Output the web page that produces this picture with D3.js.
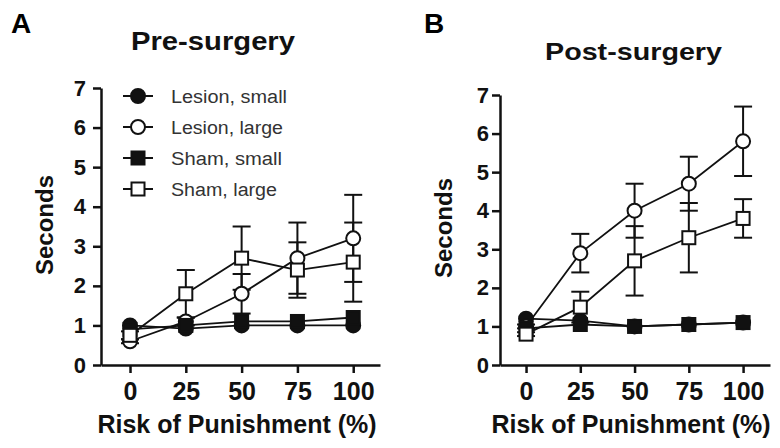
<!DOCTYPE html>
<html><head><meta charset="utf-8">
<script src="https://cdn.jsdelivr.net/npm/d3@7"></script>
<style>body{margin:0;background:#fff}</style>
</head><body><svg id="c" width="780" height="448"></svg>
<script>
// ---- data ----
const risk = [0, 25, 50, 75, 100];
const xTicks = [0, 25, 50, 75, 100];
const yTicks = [0, 1, 2, 3, 4, 5, 6, 7];
const seriesNames = ["Lesion, small", "Lesion, large", "Sham, small", "Sham, large"];

const preLesionSmall = [1.0, 0.92, 1.0, 1.0, 1.0];
const preLesionLarge = [0.6, 1.1, 1.8, 2.7, 3.2];
const preLesionLargeErr = [0.05, 0.1, 0.5, 0.9, 1.1];
const preShamSmall = [0.9, 1.0, 1.1, 1.1, 1.2];
const preShamLarge = [0.75, 1.8, 2.7, 2.4, 2.6];
const preShamLargeErr = [0.1, 0.6, 0.8, 0.7, 1.0];

const postLesionSmall = [1.2, 1.15, 1.0, 1.05, 1.1];
const postLesionLarge = [1.0, 2.9, 4.0, 4.7, 5.8];
const postLesionLargeErr = [0.05, 0.5, 0.7, 0.7, 0.9];
const postShamSmall = [0.95, 1.05, 1.0, 1.05, 1.1];
const postShamLarge = [0.8, 1.5, 2.7, 3.3, 3.8];
const postShamLargeErr = [0.05, 0.4, 0.9, 0.9, 0.5];

// ---- drawing ----
const svg = d3.select("#c");
const FONT = "'Liberation Sans', Arial, Helvetica, sans-serif";
const INK = "#111";

const styles = [
  {shape: "circle", fill: INK},   // Lesion, small
  {shape: "circle", fill: "#fff"},// Lesion, large
  {shape: "square", fill: INK},   // Sham, small
  {shape: "square", fill: "#fff"} // Sham, large
];

function marker(g, shape, fill, x, y) {
  if (shape === "circle") {
    g.append("circle").attr("cx", x).attr("cy", y).attr("r", 7)
      .attr("fill", fill).attr("stroke", INK).attr("stroke-width", 2);
  } else {
    g.append("rect").attr("x", x - 6.5).attr("y", y - 6.5).attr("width", 13).attr("height", 13)
      .attr("fill", fill).attr("stroke", INK).attr("stroke-width", 2);
  }
}

function panel(cfg) {
  const g = svg.append("g");
  const x = d3.scaleLinear().domain(cfg.xDomain).range(cfg.xRange);
  const y = d3.scaleLinear().domain([0, 7]).range(cfg.yRange);

  // axes
  const ya = g.append("g").attr("transform", `translate(${cfg.xRange[0]},0)`)
    .call(d3.axisLeft(y).tickValues(yTicks).tickFormat(d3.format("d"))
      .tickSize(8).tickSizeOuter(0).tickPadding(cfg.yPad));
  const xa = g.append("g").attr("transform", `translate(0,${cfg.yRange[0]})`)
    .call(d3.axisBottom(x).tickValues(xTicks).tickFormat(d3.format("d"))
      .tickSize(8).tickSizeOuter(0).tickPadding(9));
  [ya, xa].forEach(a => {
    a.selectAll("path,line").attr("stroke", INK).attr("stroke-width", 2.5);
    a.selectAll("text").attr("fill", INK).style("font-family", FONT).style("font-weight", "bold");
  });
  ya.selectAll("text").style("font-size", "22px");
  xa.selectAll("text").style("font-size", "25px");

  // series lines and error bars
  cfg.series.forEach((s, i) => {
    const sg = g.append("g");
    sg.append("path")
      .attr("d", d3.line().x((d, j) => x(risk[j])).y(d => y(d))(s.v))
      .attr("fill", "none").attr("stroke", INK).attr("stroke-width", 1.8);
    if (s.e) {
      s.v.forEach((v, j) => {
        const xx = x(risk[j]);
        sg.append("line").attr("x1", xx).attr("x2", xx).attr("y1", y(v - s.e[j])).attr("y2", y(v + s.e[j]))
          .attr("stroke", INK).attr("stroke-width", 2);
        [v - s.e[j], v + s.e[j]].forEach(c => {
          sg.append("line").attr("x1", xx - 9).attr("x2", xx + 9).attr("y1", y(c)).attr("y2", y(c))
            .attr("stroke", INK).attr("stroke-width", 2);
        });
      });
    }
  });
  // markers
  cfg.series.forEach((s, i) => {
    const st = styles[i];
    const mg = g.append("g");
    s.v.forEach((v, j) => marker(mg, st.shape, st.fill, x(risk[j]), y(v)));
  });

  // texts
  g.append("text").attr("x", cfg.letterX).attr("y", 33).text(cfg.letter)
    .attr("fill", "#000").style("font-family", FONT).style("font-weight", "bold").style("font-size", "28px");
  g.append("text").attr("x", cfg.titleX).attr("y", cfg.titleY).text(cfg.title)
    .attr("textLength", cfg.titleLen).attr("lengthAdjust", "spacingAndGlyphs")
    .attr("fill", INK).style("font-family", FONT).style("font-weight", "bold").style("font-size", cfg.titleSize + "px");
  g.append("text").attr("transform", `translate(${cfg.ylabX},${cfg.ylabY}) rotate(-90)`)
    .attr("text-anchor", "middle").text("Seconds")
    .attr("fill", INK).style("font-family", FONT).style("font-weight", "bold").style("font-size", "24px");
  g.append("text").attr("x", cfg.xlabX).attr("y", 433).attr("text-anchor", "middle")
    .text("Risk of Punishment (%)")
    .attr("fill", INK).style("font-family", FONT).style("font-weight", "bold").style("font-size", "25px");

  return {g, x, y};
}

panel({
  letter: "A", letterX: 11, title: "Pre-surgery", titleX: 131, titleY: 50, titleLen: 164, titleSize: 26,
  xDomain: [-13, 112], xRange: [101, 380], yRange: [365, 88], yPad: 7,
  ylabX: 53, ylabY: 225, xlabX: 237,
  series: [
    {v: preLesionSmall},
    {v: preLesionLarge, e: preLesionLargeErr},
    {v: preShamSmall},
    {v: preShamLarge, e: preShamLargeErr}
  ]
});

panel({
  letter: "B", letterX: 424, title: "Post-surgery", titleX: 545, titleY: 60, titleLen: 177, titleSize: 24,
  xDomain: [-12, 112.4], xRange: [500, 770], yRange: [365, 95], yPad: 3,
  ylabX: 452, ylabY: 228, xlabX: 631,
  series: [
    {v: postLesionSmall},
    {v: postLesionLarge, e: postLesionLargeErr},
    {v: postShamSmall},
    {v: postShamLarge, e: postShamLargeErr}
  ]
});

// legend (panel A)
const legRows = [96, 127, 158, 189];
const legLens = [116, 112, 111, 106];
const leg = svg.append("g");
seriesNames.forEach((name, i) => {
  const yy = legRows[i];
  leg.append("line").attr("x1", 123).attr("x2", 153).attr("y1", yy).attr("y2", yy)
    .attr("stroke", INK).attr("stroke-width", 2);
  marker(leg, styles[i].shape, styles[i].fill, 138, yy);
  leg.append("text").attr("x", 171).attr("y", yy + 6.5).text(name)
    .attr("textLength", legLens[i]).attr("lengthAdjust", "spacingAndGlyphs")
    .attr("fill", "#333").style("font-family", FONT).style("font-size", "18px");
});
</script>
</body></html>
